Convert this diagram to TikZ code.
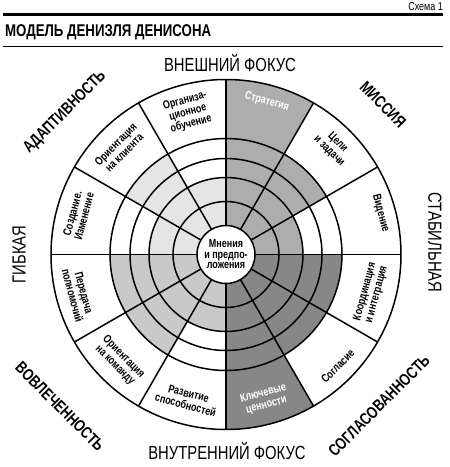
\documentclass[tikz,border=0pt]{standalone}
\usepackage{fontspec}
\setmainfont{Liberation Sans}
\newfontfamily\narrowfont[FakeStretch=0.78]{Liberation Sans}
\usepackage{tikz}

\definecolor{adaptgray}{gray}{0.90}
\definecolor{missiongray}{gray}{0.68}
\definecolor{consistgray}{gray}{0.53}
\definecolor{involvegray}{gray}{0.79}

\begin{document}
\begin{tikzpicture}[x=1pt, y=1pt,
  sector/.style={font=\narrowfont\bfseries\fontsize{11.5}{12}\selectfont, align=center, inner sep=0pt},
  axis/.style={font=\narrowfont\fontsize{19}{19}\selectfont, inner sep=0pt},
  trait/.style={font=\narrowfont\bfseries\fontsize{16.5}{16.5}\selectfont, inner sep=0pt},
  ring/.style={line width=1.5pt}]
  \useasboundingbox (-226,-212.5) rectangle (224,254.5);

  % Header
  \node[font=\narrowfont\fontsize{11.5}{11.5}\selectfont, anchor=east, inner sep=0pt] (scheme) at (217,248) {Схема 1};
  \draw[line width=2.6pt] (-223,240) -- (217,240);
  \node[font=\narrowfont\bfseries\fontsize{17}{17}\selectfont, anchor=west, inner sep=0pt] (title) at (-221,222) {МОДЕЛЬ ДЕНИЗЛЯ ДЕНИСОНА};
  \draw[line width=1.2pt] (-223,208) -- (217,208);

  % Outer shaded sectors
  \fill[missiongray] (0,0) -- (60:175) arc[start angle=60, end angle=90, radius=175] -- cycle;
  \fill[consistgray] (0,0) -- (-90:175) arc[start angle=-90, end angle=-60, radius=175] -- cycle;

  % Mission
  \fill[missiongray] (0,0) -- (60:116) arc[start angle=60, end angle=90, radius=116] -- cycle;
  \fill[missiongray] (0,0) -- (30:116) arc[start angle=30, end angle=60, radius=116] -- cycle;
  \fill[missiongray] (0,0) -- (0:77) arc[start angle=0, end angle=30, radius=77] -- cycle;

  % Consistency
  \fill[consistgray] (0,0) -- (-30:116) arc[start angle=-30, end angle=0, radius=116] -- cycle;
  \fill[consistgray] (0,0) -- (-60:116) arc[start angle=-60, end angle=-30, radius=116] -- cycle;
  \fill[consistgray] (0,0) -- (-90:116) arc[start angle=-90, end angle=-60, radius=116] -- cycle;

  % Involvement
  \fill[involvegray] (0,0) -- (-120:77) arc[start angle=-120, end angle=-90, radius=77] -- cycle;
  \fill[involvegray] (0,0) -- (-150:116) arc[start angle=-150, end angle=-120, radius=116] -- cycle;
  \fill[involvegray] (0,0) -- (-180:116) arc[start angle=-180, end angle=-150, radius=116] -- cycle;

  % Adaptability
  \fill[adaptgray] (0,0) -- (150:77) arc[start angle=150, end angle=180, radius=77] -- cycle;
  \fill[adaptgray] (0,0) -- (120:116) arc[start angle=120, end angle=150, radius=116] -- cycle;
  \fill[adaptgray] (0,0) -- (90:77) arc[start angle=90, end angle=120, radius=77] -- cycle;

  % Rings
  \draw[ring] (0,0) circle[radius=175];
  \draw[ring] (0,0) circle[radius=116];
  \draw[ring] (0,0) circle[radius=96];
  \draw[ring] (0,0) circle[radius=77];
  \draw[ring] (0,0) circle[radius=53];

  % Spokes
  \draw[ring] (0:28) -- (0:175);
  \draw[ring] (30:28) -- (30:175);
  \draw[ring] (60:28) -- (60:175);
  \draw[ring] (90:28) -- (90:175);
  \draw[ring] (120:28) -- (120:175);
  \draw[ring] (150:28) -- (150:175);
  \draw[ring] (180:28) -- (180:175);
  \draw[ring] (210:28) -- (210:175);
  \draw[ring] (240:28) -- (240:175);
  \draw[ring] (270:28) -- (270:175);
  \draw[ring] (300:28) -- (300:175);
  \draw[ring] (330:28) -- (330:175);

  % Centre
  \draw[ring, fill=white] (0,0) circle[radius=29];
  \node[sector, font=\narrowfont\bfseries\fontsize{11.5}{10.5}\selectfont] (beliefs) at (0,0) {Мнения\\и предпо-\\ложения};

  % Sector labels
  \node[sector, rotate=-15, text=white] (strategy) at (75:158) {Стратегия};
  \node[sector, rotate=-45] (goals) at (45:152) {Цели\\и задачи};
  \node[sector, rotate=-75] (vision) at (15:160) {Видение};
  \node[sector, rotate=75] (coordination) at (-15:150) {Координация\\и интеграция};
  \node[sector, rotate=45] (agreement) at (-45:158) {Согласие};
  \node[sector, rotate=15, text=white] (values) at (-75:150) {Ключевые\\ценности};
  \node[sector, rotate=-15] (capability) at (-105:150) {Развитие\\способностей};
  \node[sector, rotate=-45] (team) at (-135:151) {Ориентация\\на команду};
  \node[sector, rotate=-75] (empowerment) at (-165:153) {Передача\\полномочий};
  \node[sector, rotate=75] (change) at (165:153) {Создание.\\Изменение};
  \node[sector, rotate=45] (customer) at (135:150) {Ориентация\\на клиента};
  \node[sector, rotate=15] (learning) at (105:147) {Организа-\\ционное\\обучение};

  % Axes
  \node[axis] (external) at (4,191) {ВНЕШНИЙ ФОКУС};
  \node[axis] (internal) at (1,-197) {ВНУТРЕННИЙ ФОКУС};
  \node[axis, rotate=90] (flexible) at (-207,0) {ГИБКАЯ};
  \node[axis, rotate=-90] (stable) at (209,12) {СТАБИЛЬНАЯ};

  % Traits
  \node[trait, rotate=45] (adaptability) at (-161,142) {АДАПТИВНОСТЬ};
  \node[trait, rotate=-45] (mission) at (157,150) {МИССИЯ};
  \node[trait, rotate=-45] (involvement) at (-166,-152) {ВОВЛЕЧЕННОСТЬ};
  \node[trait, rotate=45] (consistency) at (153,-151) {СОГЛАСОВАННОСТЬ};
\end{tikzpicture}
\end{document}
